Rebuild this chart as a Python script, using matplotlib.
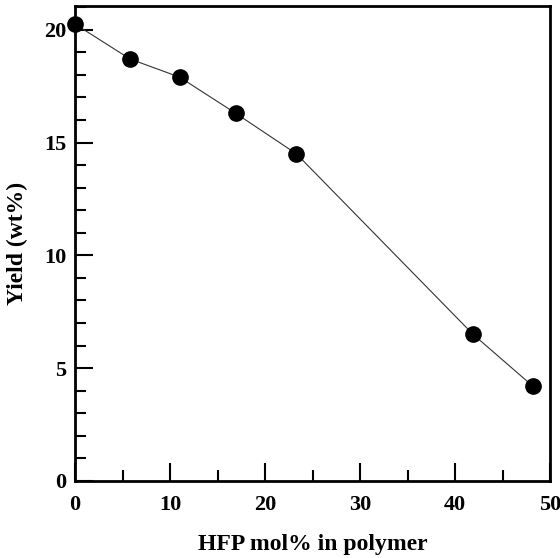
import matplotlib
matplotlib.use('Agg')
import matplotlib.pyplot as plt
from matplotlib.ticker import MultipleLocator

# HFP content vs yield
hfp = [0, 5.8, 11.0, 16.9, 23.3, 41.9, 48.2]
yield_wt = [20.25, 18.7, 17.9, 16.3, 14.5, 6.5, 4.2]

plt.rcParams['font.family'] = ['Liberation Serif', 'DejaVu Serif']
plt.rcParams['font.weight'] = 'bold'

fig = plt.figure(figsize=(5.6, 5.58), dpi=100)
ax = fig.add_axes([75/560, 1 - 481/558, 475/560, 475/558])

ax.plot(hfp, yield_wt, color='#333333', lw=0.8, marker='o', ms=11,
        mfc='black', mec='black', clip_on=False, zorder=3)

ax.set_xlim(0, 50)
ax.set_ylim(0, 21.05)
ax.xaxis.set_major_locator(MultipleLocator(10))
ax.xaxis.set_minor_locator(MultipleLocator(5))
ax.yaxis.set_major_locator(MultipleLocator(5))
ax.yaxis.set_minor_locator(MultipleLocator(1))
ax.tick_params(which='both', direction='in', top=False, right=False,
               width=1.5, labelsize=16)
ax.tick_params(which='major', length=13, pad=10)
ax.tick_params(which='minor', length=8)
ax.tick_params(axis='y', which='major', pad=6)
for s in ax.spines.values():
    s.set_linewidth(2)

ax.set_xlabel('HFP mol% in polymer', fontsize=17, fontweight='bold', labelpad=14)
ax.set_ylabel('Yield (wt%)', fontsize=17, fontweight='bold', labelpad=12)

fig.savefig('out.png', dpi=100)
